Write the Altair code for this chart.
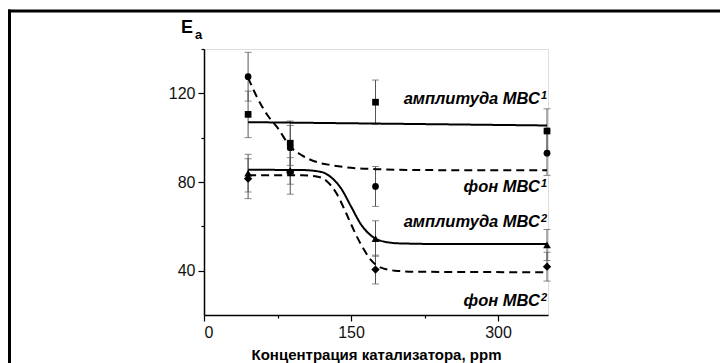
import altair as alt
import pandas as pd

# ---- data ----
conc = [45, 88, 175, 350]
amp1 = [110.5, 97.5, 116, 103]
amp1_err = [10.5, 10, 10, 10]
fon1 = [127.5, 95.5, 78, 93]
fon1_err = [11, 10, 9, 10]
amp2 = [84, 85, 54.5, 51.6]
amp2_err = [8.5, 6, 8, 7]
fon2 = [81.5, 84.5, 40.5, 41.8]
fon2_err = [9, 10, 6.5, 6.5]

fit_amp1_x = [45, 350]
fit_amp1_y = [107, 105.5]
fit_fon1_x = [45, 55, 65, 75, 88, 100, 115, 130, 150, 175, 220, 280, 350]
fit_fon1_y = [127, 117.5, 110, 104.5, 96, 92, 89, 87.6, 86.4, 85.8, 85.4, 85.3, 85.3]
fit_amp2_x = [45, 100, 120, 130, 140, 150, 160, 170, 180, 200, 250, 350]
fit_amp2_y = [85.5, 85.4, 84.5, 82, 77, 69, 61, 56, 53.5, 52.3, 52, 52]
fit_fon2_x = [45, 100, 115, 125, 135, 145, 150, 160, 170, 180, 195, 220, 350]
fit_fon2_y = [83, 83, 82.5, 80.5, 75, 66, 61, 52, 45, 41.5, 40, 39.5, 39.3]

labels = ["амплитуда МВС", "фон МВС", "амплитуда МВС", "фон МВС"]
label_sup = ["1", "1", "2", "2"]
label_y = [115.4, 75.6, 59.8, 24.2]

x_title = "Концентрация катализатора, ppm"

series = ["amp1", "fon1", "amp2", "fon2"]
shapes = ["square", "circle", "triangle-up", "diamond"]
sizes = [45, 45, 60, 70]

rows = []
for s, ys, es in zip(series, [amp1, fon1, amp2, fon2], [amp1_err, fon1_err, amp2_err, fon2_err]):
    for x, y, e in zip(conc, ys, es):
        rows.append({"s": s, "x": x, "y": y, "lo": y - e, "hi": y + e})
pts = pd.DataFrame(rows)

fits = []
for s, xs, ys, dash in zip(series, [fit_amp1_x, fit_fon1_x, fit_amp2_x, fit_fon2_x],
                           [fit_amp1_y, fit_fon1_y, fit_amp2_y, fit_fon2_y],
                           ["solid", "dashed", "solid", "dashed"]):
    for x, y in zip(xs, ys):
        fits.append({"s": s, "x": x, "y": y, "d": dash})
fit_df = pd.DataFrame(fits)

lab_df = pd.DataFrame({"t": labels, "sup": label_sup, "x": [350] * 4, "y": label_y})

FONT = "Liberation Sans"

xscale = alt.Scale(domain=[0, 351], nice=False, zero=False)
yscale = alt.Scale(domain=[20, 140], nice=False, zero=False)

xaxis = alt.Axis(values=[0, 75, 150, 225, 300],
                 labelExpr="datum.value % 150 == 0 ? datum.label : ''",
                 title=x_title, titleFont=FONT, titleFontSize=15, titleFontWeight="bold",
                 titleColor="black", titlePadding=7,
                 labelFont=FONT, labelFontSize=16, labelColor="#111", labelPadding=3,
                 domainColor="black", domainWidth=1.5, tickColor="black", tickWidth=1.2,
                 tickSize={"condition": {"test": "datum.value % 150 == 0", "value": 6}, "value": 3},
                 grid=False)
yaxis = alt.Axis(values=[40, 60, 80, 100, 120, 140],
                 labelExpr="datum.value % 40 == 0 ? datum.label : ''",
                 title=None,
                 labelFont=FONT, labelFontSize=16, labelColor="#111", labelPadding=3,
                 domainColor="black", domainWidth=1.5, tickColor="black", tickWidth=1.2,
                 tickSize={"condition": {"test": "datum.value % 40 == 0", "value": 6}, "value": 3},
                 grid=False)

base_pts = alt.Chart(pts)

errs = base_pts.mark_errorbar(ticks={"size": 7, "thickness": 1}, color="#555", thickness=1).encode(
    x=alt.X("x:Q", scale=xscale, axis=xaxis),
    y=alt.Y("lo:Q", scale=yscale, axis=yaxis),
    y2="hi:Q",
)

lines = alt.Chart(fit_df).mark_line(color="black", strokeWidth=2, interpolate="monotone").encode(
    x=alt.X("x:Q", scale=xscale),
    y=alt.Y("y:Q", scale=yscale),
    detail="s:N",
    strokeDash=alt.StrokeDash("d:N", scale=alt.Scale(domain=["solid", "dashed"],
                                                     range=[[1, 0], [8, 5]]), legend=None),
)

point_layers = []
for s, shp, sz in zip(series, shapes, sizes):
    point_layers.append(
        base_pts.transform_filter(alt.datum.s == s).mark_point(
            filled=True, color="black", opacity=1, shape=shp, size=sz, strokeWidth=0
        ).encode(
            x=alt.X("x:Q", scale=xscale),
            y=alt.Y("y:Q", scale=yscale),
        )
    )

texts = alt.Chart(lab_df).mark_text(font=FONT, fontSize=16.5, fontWeight="bold", fontStyle="italic",
                                    align="right", baseline="alphabetic", color="black", dx=-7).encode(
    x=alt.X("x:Q", scale=xscale),
    y=alt.Y("y:Q", scale=yscale),
    text="t:N",
)
sups = alt.Chart(lab_df).mark_text(font=FONT, fontSize=11, fontWeight="bold", fontStyle="italic",
                                   align="right", baseline="alphabetic", color="black", dy=-5).encode(
    x=alt.X("x:Q", scale=xscale),
    y=alt.Y("y:Q", scale=yscale),
    text="sup:N",
)

ea_E = alt.Chart(pd.DataFrame({"t": ["E"]})).mark_text(
    font=FONT, fontSize=18, fontWeight="bold", align="left", baseline="alphabetic", color="black"
).encode(x=alt.value(-23), y=alt.value(-16), text="t:N")
ea_a = alt.Chart(pd.DataFrame({"t": ["a"]})).mark_text(
    font=FONT, fontSize=13, fontWeight="bold", align="left", baseline="alphabetic", color="black"
).encode(x=alt.value(-9), y=alt.value(-10), text="t:N")

frame_top = alt.Chart(pd.DataFrame({"a": [0]})).mark_rule(color="black", strokeWidth=3).encode(
    x=alt.value(-196), x2=alt.value(520), y=alt.value(-38))
frame_left = alt.Chart(pd.DataFrame({"a": [0]})).mark_rule(color="black", strokeWidth=3).encode(
    x=alt.value(-194.5), y=alt.value(-39.5), y2=alt.value(320))

chart = alt.layer(errs, lines, *point_layers, texts, sups, ea_E, ea_a, frame_top, frame_left).properties(
    width=344, height=266,
    autosize=alt.AutoSizeParams(type="none"),
    padding={"left": 204, "top": 49, "right": 172, "bottom": 48},
).configure_view(stroke=None).configure(background="white")

chart.save("out.html", embed_options={"renderer": "svg", "actions": False})
